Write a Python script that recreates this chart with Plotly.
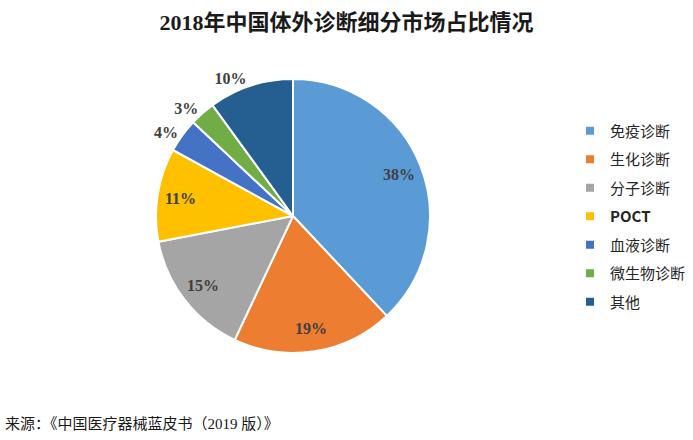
import math
import plotly.graph_objects as go

categories = ["免疫诊断", "生化诊断", "分子诊断", "POCT", "血液诊断", "微生物诊断", "其他"]
legend_names = ["免疫诊断", "生化诊断", "分子诊断", "<b>POCT</b>", "血液诊断", "微生物诊断", "其他"]
values = [38, 19, 15, 11, 4, 3, 10]
colors = ["#5B9BD5", "#ED7D31", "#A5A5A5", "#FFC000", "#4472C4", "#70AD47", "#255E91"]
inside = [True, True, True, True, False, False, False]

W, H = 693, 440
cx, cy, r = 293, 216, 137
label_font = dict(family="Liberation Serif, Noto Sans CJK SC", size=16, color="#404040")

fig = go.Figure()
fig.add_trace(go.Pie(
    labels=categories,
    values=values,
    sort=False,
    direction="clockwise",
    rotation=0,
    marker=dict(colors=colors, line=dict(color="white", width=2)),
    texttemplate="<b>%{value}%</b>",
    textposition=["none" if i else "outside" for i in inside],
    textfont=label_font,
    domain=dict(x=[(cx - r) / W, (cx + r) / W], y=[(H - cy - r) / H, (H - cy + r) / H]),
    hoverinfo="label+percent",
    showlegend=False,
))

# legend entries (square markers, wider spacing as in reference)
for name, col in zip(legend_names, colors):
    fig.add_trace(go.Scatter(
        x=[None], y=[None], mode="markers", name=name, legendgroup=name,
        marker=dict(symbol="square", size=8, color=col), hoverinfo="skip",
    ))

# inside labels placed at ~0.83 of radius along slice bisector (computed from values)
annotations = []
total = sum(values)
cum = 0
for v, ins in zip(values, inside):
    mid = (cum + v / 2) / total * 2 * math.pi
    cum += v
    if not ins:
        continue
    rr = 0.83 * r
    px = cx + rr * math.sin(mid)
    py = cy - rr * math.cos(mid)
    annotations.append(dict(text=f"<b>{v}%</b>", x=px / W, y=1 - py / H, xref="paper", yref="paper",
                            xanchor="center", yanchor="middle", showarrow=False, font=label_font))

annotations.append(dict(text="来源：《中国医疗器械蓝皮书（2019 版）》", x=0.005, y=0.037, xref="paper", yref="paper",
                        xanchor="left", yanchor="middle", showarrow=False,
                        font=dict(family="Liberation Serif, Noto Sans CJK SC", size=15, color="#1a1a1a")))

fig.update_layout(
    width=W, height=H,
    margin=dict(l=0, r=0, t=0, b=0),
    paper_bgcolor="white",
    plot_bgcolor="white",
    xaxis=dict(visible=False),
    yaxis=dict(visible=False),
    showlegend=True,
    legend=dict(x=570 / W, y=0.74, xanchor="left", yanchor="top",
                font=dict(family="Noto Sans CJK SC", size=15, color="#262626"),
                itemwidth=30, tracegroupgap=6, bgcolor="rgba(0,0,0,0)"),
    title=dict(text="<b>2018年中国体外诊断细分市场占比情况</b>", x=0.5, xanchor="center", y=0.95, yanchor="middle",
               font=dict(family="Liberation Serif, Noto Sans CJK SC", size=22, color="#1a1a1a")),
    annotations=annotations,
)

fig.write_html("out.html")
